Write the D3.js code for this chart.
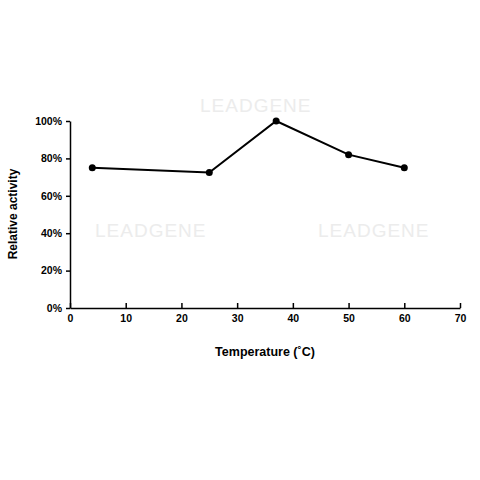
<!DOCTYPE html>
<html>
<head>
<meta charset="utf-8">
<script src="https://cdn.jsdelivr.net/npm/d3@7"></script>
<style>
  body { margin: 0; background: #fff; }
  text { font-family: "Liberation Sans", Arial, sans-serif; }
</style>
</head>
<body>
<div id="chart"></div>
<script>
const temps = [4, 25, 37, 50, 60];
const activity = [75, 72.5, 100, 82, 75];
const xTicks = [0, 10, 20, 30, 40, 50, 60, 70];
const yTicks = [0, 20, 40, 60, 80, 100];
const marks = [[200, 112], [95, 237], [318, 237]];

const width = 480;
const height = 480;

const svg = d3.select("#chart").append("svg")
  .attr("width", width).attr("height", height);

// faint watermark text
svg.selectAll("text.wm").data(marks).enter().append("text")
  .attr("class", "wm")
  .attr("x", (d) => d[0]).attr("y", (d) => d[1])
  .attr("fill", "#ececec")
  .style("font-size", "19px")
  .style("letter-spacing", "1px")
  .text("LEADGENE");

const x = d3.scaleLinear().domain([0, 70]).range([70, 460]);
const y = d3.scaleLinear().domain([0, 100]).range([308, 121]);

const xAxis = svg.append("g")
  .attr("transform", "translate(0,308)")
  .call(d3.axisBottom(x).tickValues(xTicks).tickSize(-5).tickPadding(7).tickSizeOuter(0));
const yAxis = svg.append("g")
  .attr("transform", "translate(70,0)")
  .call(d3.axisLeft(y).tickValues(yTicks).tickSize(4).tickPadding(4).tickSizeOuter(0)
    .tickFormat((d) => d + "%"));

[xAxis, yAxis].forEach((g) => {
  g.selectAll("path, line").attr("stroke", "#000").attr("stroke-width", 1.5);
  g.selectAll("text").attr("fill", "#000").style("font-size", "10.5px").style("font-weight", "bold");
});

const line = d3.line().x((d, i) => x(temps[i])).y((d) => y(d));
svg.append("path").datum(activity)
  .attr("d", line).attr("fill", "none").attr("stroke", "#000").attr("stroke-width", 2);

svg.selectAll("circle").data(activity).enter().append("circle")
  .attr("cx", (d, i) => x(temps[i])).attr("cy", (d) => y(d))
  .attr("r", 3.5).attr("fill", "#000");

svg.append("text")
  .attr("x", 265).attr("y", 356)
  .attr("text-anchor", "middle")
  .style("font-size", "12.5px").style("font-weight", "bold")
  .text("Temperature (˚C)");

svg.append("text")
  .attr("transform", "rotate(-90)")
  .attr("x", -214).attr("y", 17)
  .attr("text-anchor", "middle")
  .style("font-size", "12px").style("font-weight", "bold")
  .text("Relative activity");
</script>
</body>
</html>
